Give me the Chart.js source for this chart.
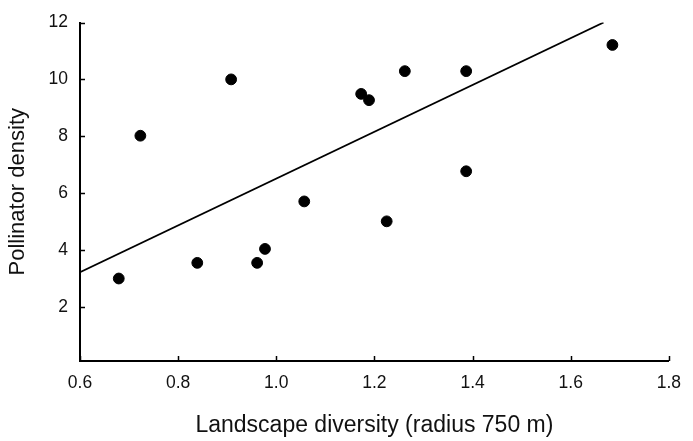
<!DOCTYPE html>
<html>
<head>
<meta charset="utf-8">
<script src="https://cdn.jsdelivr.net/npm/chart.js@4/dist/chart.umd.min.js"></script>
<style>
  html, body { margin: 0; padding: 0; background: #fff; }
  #wrap { width: 693px; height: 441px; }
</style>
</head>
<body>
<div id="wrap"><canvas id="scatter-chart" width="693" height="441"></canvas></div>
<script>
// values
const diversity = [0.679, 0.723, 0.839, 0.908, 0.961, 0.977, 1.057, 1.173, 1.189, 1.225, 1.262, 1.387, 1.387, 1.685];
const density   = [3.0, 8.02, 3.55, 10.0, 3.55, 4.04, 5.71, 9.49, 9.27, 5.01, 10.29, 10.29, 6.77, 11.21];
const fitX = [0.6, 1.667];
const fitY = [3.22, 12];
const xTicks = [0.6, 0.8, 1.0, 1.2, 1.4, 1.6, 1.8];
const yTicks = [2, 4, 6, 8, 10, 12];

const FONT = "'Liberation Sans', Arial, sans-serif";

// small tick marks pointing into the plot
const innerTicks = {
    id: 'innerTicks',
    afterDraw(chart) {
        const { ctx, chartArea, scales } = chart;
        ctx.save();
        ctx.strokeStyle = '#000';
        ctx.lineWidth = 1.5;
        ctx.beginPath();
        xTicks.forEach(v => {
            const px = Math.round(scales.x.getPixelForValue(v)) + 0.5;
            ctx.moveTo(px, chartArea.bottom);
            ctx.lineTo(px, chartArea.bottom - 5);
        });
        yTicks.forEach(v => {
            const py = Math.round(scales.y.getPixelForValue(v)) + 0.5;
            ctx.moveTo(chartArea.left, py);
            ctx.lineTo(chartArea.left + 5, py);
        });
        ctx.stroke();
        ctx.restore();
    }
};

new Chart(document.getElementById('scatter-chart').getContext('2d'), {
    type: 'scatter',
    data: {
        datasets: [{
            label: 'Sites',
            data: diversity.map((x, i) => ({ x: x, y: density[i] })),
            backgroundColor: '#000',
            borderColor: '#000',
            pointRadius: 5.4,
            pointHoverRadius: 5.4
        }, {
            type: 'line',
            label: 'Fit',
            data: fitX.map((x, i) => ({ x: x, y: fitY[i] })),
            borderColor: '#000',
            borderWidth: 1.8,
            pointRadius: 0,
            fill: false
        }]
    },
    options: {
        responsive: false,
        animation: false,
        layout: { padding: { top: 20, right: 15, bottom: 0, left: 0 } },
        plugins: {
            legend: { display: false },
            tooltip: { enabled: false }
        },
        scales: {
            x: {
                type: 'linear',
                min: 0.6,
                max: 1.8,
                afterBuildTicks: s => { s.ticks = xTicks.map(v => ({ value: v })); },
                afterFit: s => { s.height = 80; },
                ticks: {
                    padding: 12,
                    color: '#111',
                    font: { family: FONT, size: 17.5 },
                    callback: v => Number(v).toFixed(1)
                },
                grid: { display: true, drawOnChartArea: false, drawTicks: false },
                border: { display: true, color: '#000', width: 2 },
                title: {
                    display: true,
                    text: 'Landscape diversity (radius 750 m)',
                    color: '#111',
                    font: { family: FONT, size: 23 },
                    padding: { top: 0, bottom: 2 }
                }
            },
            y: {
                type: 'linear',
                min: 0.1,
                max: 12,
                afterBuildTicks: s => { s.ticks = yTicks.map(v => ({ value: v })); },
                afterFit: s => { s.width = 80; },
                ticks: {
                    padding: 12,
                    color: '#111',
                    font: { family: FONT, size: 17.5 }
                },
                grid: { display: true, drawOnChartArea: false, drawTicks: false },
                border: { display: true, color: '#000', width: 2 },
                title: {
                    display: true,
                    text: 'Pollinator density',
                    color: '#111',
                    font: { family: FONT, size: 22 },
                    padding: { top: 5, bottom: 0 }
                }
            }
        }
    },
    plugins: [innerTicks]
});
</script>
</body>
</html>
